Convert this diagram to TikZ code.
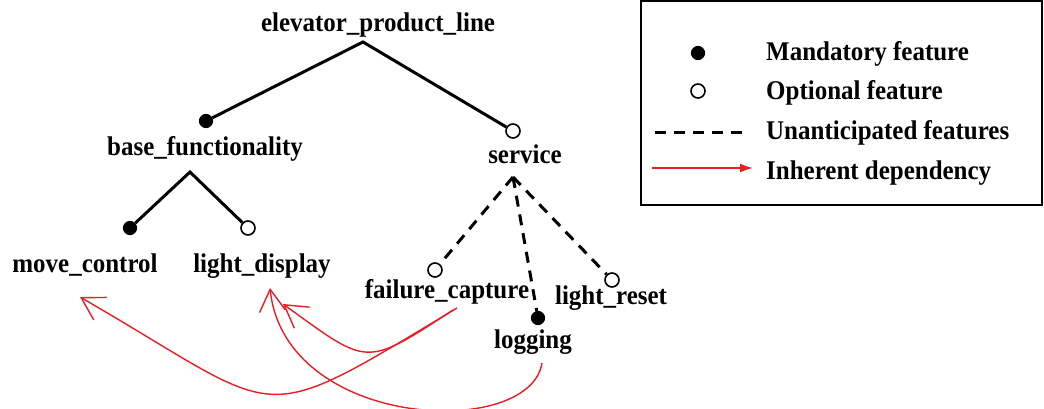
\documentclass[tikz,border=0pt]{standalone}
\usepackage{fontspec}
\setmainfont[FakeStretch=0.925]{Liberation Serif}
\usepackage{tikz}
\usetikzlibrary{arrows.meta}

\definecolor{deporange}{RGB}{236,28,36}

\tikzset{
	feat/.style={font=\fontsize{27}{32}\selectfont\bfseries, anchor=base, inner sep=0pt},
	keytext/.style={feat, anchor=base west},
	mand/.style={circle, fill=black, draw=black, line width=1.2pt, minimum size=13pt, inner sep=0pt},
	opt/.style={circle, fill=white, draw=black, line width=1.6pt, minimum size=14pt, inner sep=0pt},
	link/.style={line width=3pt},
	unant/.style={line width=3pt, dash pattern=on 11pt off 8pt},
	dep/.style={deporange, line width=1.4pt, -{Straight Barb[length=22pt,width=26pt]}},
}

\begin{document}
\begin{tikzpicture}[x=1pt,y=-1pt]
	\useasboundingbox (0,0) rectangle (1044,408);
	% features
	\node[feat] (root) at (378,31)  {elevator\_product\_line};
	\node[feat] (bf)   at (205,155) {base\_functionality};
	\node[feat] (sv)   at (525,163) {service};
	\node[feat] (mc)   at (85,272)  {move\_control};
	\node[feat] (ld)   at (262,272) {light\_display};
	\node[feat] (fc)   at (447,298) {failure\_capture};
	\node[feat] (lr)   at (611,304) {light\_reset};
	\node[feat] (lg)   at (533,348) {logging};

	\coordinate (root-fork) at (363,42);
	\coordinate (bf-fork)   at (190,172);
	\coordinate (sv-fork)   at (513,177);

	\node[mand] (bf-dot) at (206,121) {};
	\node[opt]  (sv-dot) at (513,131) {};
	\node[mand] (mc-dot) at (130,228) {};
	\node[opt]  (ld-dot) at (248,228) {};
	\node[opt]  (fc-dot) at (435,270) {};
	\node[mand] (lg-dot) at (538,318) {};
	\node[opt]  (lr-dot) at (612,280) {};

	\draw[link] (bf-dot) -- (root-fork) -- (sv-dot);
	\draw[link] (mc-dot) -- (bf-fork) -- (ld-dot);
	\draw[unant] (sv-fork) -- (fc-dot);
	\draw[unant] (sv-fork) -- (lg-dot);
	\draw[unant] (sv-fork) -- (lr-dot);

	% inherent dependencies
	\draw[dep] ([shift={(10,10)}]fc.base) .. controls (251,432) and (288,417) .. ([shift={(-5,25)}]mc.base);
	\draw[dep] ([shift={(6,12)}]fc.base) .. controls (364,368) and (369,366) .. ([shift={(21,32)}]ld.base);
	\draw[dep] ([shift={(9,15)}]lg.base) .. controls (530,440) and (285,430) .. ([shift={(8,16)}]ld.base);

	% legend
	\draw[line width=1.5pt] (641,1) rectangle (1042,205);
	\node[mand] (key-mand) at (698,53) {};
	\node[opt]  (key-opt)  at (698,91) {};
	\coordinate (key-dash-a) at (655,132);
	\coordinate (key-dash-b) at (747,132);
	\coordinate (key-dep-a)  at (652,168);
	\coordinate (key-dep-b)  at (753,168);
	\draw[unant] (key-dash-a) -- (key-dash-b);
	\draw[deporange, line width=1.4pt, -{Latex[length=13pt,width=9pt]}] (key-dep-a) -- (key-dep-b);
	\node[keytext] (t-mand) at (766,60)  {Mandatory feature};
	\node[keytext] (t-opt)  at (766,99)  {Optional feature};
	\node[keytext] (t-dash) at (766,139) {Unanticipated features};
	\node[keytext] (t-dep)  at (766,179) {Inherent dependency};
\end{tikzpicture}
\end{document}
